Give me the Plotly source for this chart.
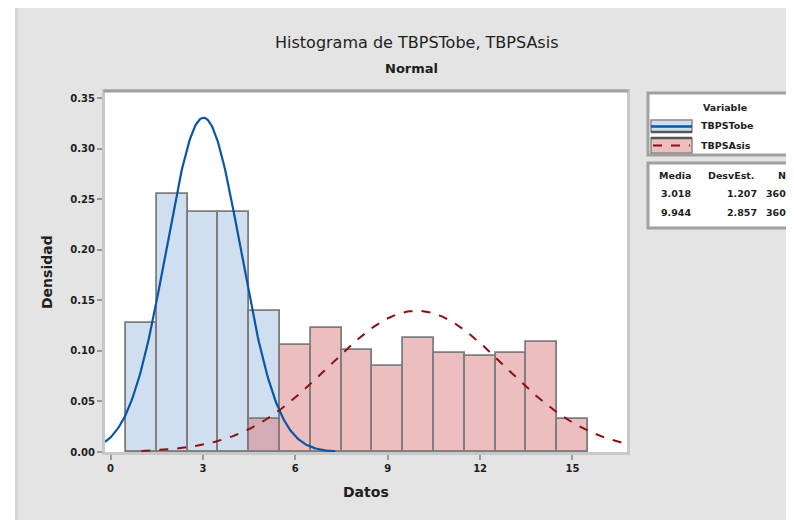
import numpy as np
import plotly.graph_objects as go

# ---- data ----
bin_centers = [1, 2, 3, 4, 5, 6, 7, 8, 9, 10, 11, 12, 13, 14, 15]
tobe_density = [0.128, 0.255, 0.237, 0.237, 0.1395, 0, 0, 0, 0, 0, 0, 0, 0, 0, 0]
asis_density = [0, 0, 0, 0, 0.033, 0.106, 0.123, 0.101, 0.085, 0.1125, 0.0976, 0.095, 0.0976, 0.109, 0.033]

series_names = ["TBPSTobe", "TBPSAsis"]
means = [3.018, 9.944]
stdevs = [1.207, 2.857]
counts = [360, 360]

x_ticks = [0, 3, 6, 9, 12, 15]
y_ticks = [0.00, 0.05, 0.10, 0.15, 0.20, 0.25, 0.30, 0.35]

# ---- layout constants (screen pixels; page has an 8px body margin) ----
OFF = 8
W, H = 794 - OFF, 520 - OFF
L, R, T, B = 105, 627, 92, 452  # plot area in screen pixels
XR = [-0.18, 16.77]
YR = [0, 0.356]


def px(x):
    return (x - L) / (R - L)


def py(y):
    return (B - y) / (B - T)


def pdf(x, m, s):
    return np.exp(-0.5 * ((x - m) / s) ** 2) / (s * np.sqrt(2 * np.pi))


FONT = "DejaVu Sans, Verdana, sans-serif"
TXT = "#1e1e1e"

fig = go.Figure()

fig.add_trace(go.Bar(
    x=bin_centers, y=tobe_density, width=1.0, name=series_names[0],
    marker=dict(color="rgb(208,223,240)", line=dict(color="#7d7d7d", width=1.8)),
))
fig.add_trace(go.Bar(
    x=bin_centers, y=asis_density, width=1.0, name=series_names[1],
    marker=dict(color="rgba(214,110,115,0.45)", line=dict(color="#7d7d7d", width=1.8)),
))

xb = np.linspace(XR[0], 7.3, 200)
fig.add_trace(go.Scatter(x=xb, y=pdf(xb, means[0], stdevs[0]), mode="lines",
                         line=dict(color="#0a56a6", width=2.2), showlegend=False))
xr = np.linspace(1.0, XR[1], 300)
fig.add_trace(go.Scatter(x=xr, y=pdf(xr, means[1], stdevs[1]), mode="lines",
                         line=dict(color="#8e0f12", width=2, dash="dash"), showlegend=False))

fig.update_layout(
    width=W, height=H,
    margin=dict(l=L - OFF, r=W - (R - OFF), t=T - OFF, b=H - (B - OFF), pad=0),
    paper_bgcolor="#e4e4e4", plot_bgcolor="white",
    barmode="overlay", bargap=0, showlegend=False,
    font=dict(family=FONT, color=TXT),
    xaxis=dict(range=XR, tickvals=x_ticks, ticktext=[f"<b>{v}</b>" for v in x_ticks],
               ticks="outside", ticklen=5, tickcolor="#9a9a9a", tickwidth=2,
               showgrid=False, zeroline=False, showline=True, linecolor="#c8c8c8",
               linewidth=3, mirror=True, tickfont=dict(size=10, family=FONT)),
    yaxis=dict(range=YR, tickvals=y_ticks, ticktext=[f"<b>{v:.2f}</b>" for v in y_ticks],
               ticks="outside", ticklen=5, tickcolor="#9a9a9a", tickwidth=2,
               showgrid=False, zeroline=False, showline=True, linecolor="#c8c8c8",
               linewidth=3, mirror=True, tickfont=dict(size=10, family=FONT)),
)


def note(x, y, text, font, xanchor="center", angle=0):
    fig.add_annotation(xref="paper", yref="paper", x=px(x), y=py(y), showarrow=False,
                       xanchor=xanchor, yanchor="middle", textangle=angle, text=text, font=font)


# darker top frame line of the plot area
fig.add_shape(type="line", xref="paper", yref="paper", x0=px(L - 1.5), x1=px(R + 1.5), y0=py(T - 1), y1=py(T - 1),
              line=dict(color="#a0a0a0", width=3), layer="above")

# white strip at the left edge of the page
fig.add_shape(type="rect", xref="paper", yref="paper", x0=px(0), x1=px(15), y0=py(530), y1=py(-10),
              fillcolor="white", line=dict(width=0), layer="above")
fig.add_shape(type="rect", xref="paper", yref="paper", x0=px(15), x1=px(18), y0=py(530), y1=py(-10),
              fillcolor="#d6d6d6", line=dict(width=0), layer="above")

# titles
note(416, 42, "Histograma de TBPSTobe, TBPSAsis", dict(size=16, color=TXT, family=FONT))
note(411, 68, "<b>Normal</b>", dict(size=13, color=TXT, family=FONT))
note(366, 492, "<b>Datos</b>", dict(size=14, color=TXT, family=FONT))
note(47, 272, "<b>Densidad</b>", dict(size=14, color=TXT, family=FONT), angle=-90)

LF = dict(size=9.5, color=TXT, family=FONT)

# legend box 1
fig.add_shape(type="rect", xref="paper", yref="paper", x0=px(648), x1=px(805), y0=py(155), y1=py(93),
              fillcolor="white", line=dict(color="#a0a0a0", width=3), layer="above")
note(725, 108, "<b>Variable</b>", LF)
# blue sample
fig.add_shape(type="rect", xref="paper", yref="paper", x0=px(651), x1=px(692), y0=py(132), y1=py(120),
              fillcolor="rgb(208,223,240)", line=dict(color="#888", width=1.5), layer="above")
fig.add_shape(type="line", xref="paper", yref="paper", x0=px(651), x1=px(692), y0=py(126.5), y1=py(126.5),
              line=dict(color="#0a56a6", width=2.4), layer="above")
fig.add_shape(type="line", xref="paper", yref="paper", x0=px(651), x1=px(692), y0=py(132), y1=py(132),
              line=dict(color="#555", width=2.5), layer="above")
note(699, 125, "<b>" + series_names[0] + "</b>", LF, xanchor="left")
# red sample
fig.add_shape(type="rect", xref="paper", yref="paper", x0=px(651), x1=px(692), y0=py(153), y1=py(138),
              fillcolor="rgb(236,190,192)", line=dict(color="#888", width=1.5), layer="above")
fig.add_shape(type="line", xref="paper", yref="paper", x0=px(651), x1=px(692), y0=py(138), y1=py(138),
              line=dict(color="#555", width=2.5), layer="above")
fig.add_shape(type="line", xref="paper", yref="paper", x0=px(653), x1=px(690), y0=py(145.5), y1=py(145.5),
              line=dict(color="#8e0f12", width=2, dash="dash"), layer="above")
note(699, 145, "<b>" + series_names[1] + "</b>", LF, xanchor="left")

# legend box 2 (stats table)
fig.add_shape(type="rect", xref="paper", yref="paper", x0=px(648), x1=px(805), y0=py(228), y1=py(163),
              fillcolor="white", line=dict(color="#a0a0a0", width=3), layer="above")
note(675, 175, "<b>Media</b>", LF)
note(731, 175, "<b>DesvEst.</b>", LF)
note(782, 175, "<b>N</b>", LF)
for i, yy in enumerate([193, 212]):
    note(676, yy, f"<b>{means[i]:.3f}</b>", LF)
    note(759, yy, f"<b>{stdevs[i]:.3f}</b>", LF, xanchor="right")
    note(788, yy, f"<b>{counts[i]}</b>", LF, xanchor="right")

fig.write_html("out.html")
